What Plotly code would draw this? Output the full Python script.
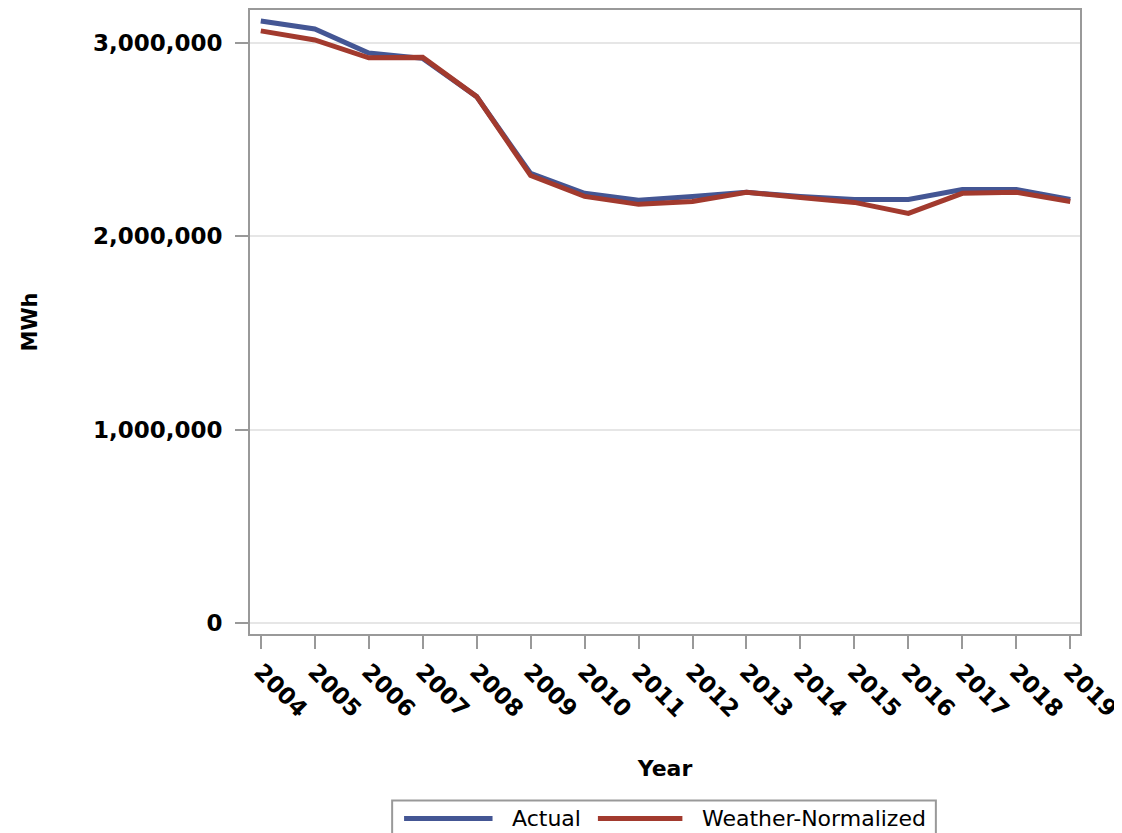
import plotly.graph_objects as go

years = [2004, 2005, 2006, 2007, 2008, 2009, 2010, 2011, 2012, 2013, 2014, 2015, 2016, 2017, 2018, 2019]
actual = [3113000, 3072000, 2948000, 2920000, 2722000, 2325000, 2222000, 2186000, 2206000, 2227000, 2206000, 2190000, 2190000, 2242000, 2242000, 2190000]
weather = [3062000, 3015000, 2923000, 2925000, 2722000, 2314000, 2206000, 2165000, 2180000, 2227000, 2201000, 2175000, 2118000, 2222000, 2227000, 2180000]
series_names = ["Actual", "Weather-Normalized"]
colors = ["#445694", "#A23A2E"]

# page has an 8px body margin; figure coordinates are page coordinates minus 8
OFF = 8
W, H = 1114, 825
L, T = 250 - OFF, 8 - OFF
R = W - (1085 - OFF)
B = H - (634 - OFF)
pw, ph = W - L - R, H - T - B

fig = go.Figure()
for name, vals, c in zip(series_names, [actual, weather], colors):
    fig.add_trace(go.Scatter(x=years, y=vals, mode="lines", name=name,
                             line=dict(color=c, width=5), showlegend=False))

tickfont = dict(family="DejaVu Sans", size=23, color="black", weight="bold")
fig.update_layout(
    width=W, height=H, margin=dict(l=L, r=R, t=T, b=B),
    paper_bgcolor="white", plot_bgcolor="white",
    xaxis=dict(range=[2003.8, 2019.18], tickmode="array", tickvals=years,
               ticktext=[str(y) for y in years], tickangle=45,
               ticklabeloverflow="allow",
               ticks="outside", ticklen=13, tickwidth=2, tickcolor="#999999",
               showline=True, linecolor="#999999", linewidth=2, mirror=True,
               showgrid=False, zeroline=False, tickfont=tickfont,
               title=dict(text="Year", font=dict(family="DejaVu Sans", size=22, color="black", weight="bold"), standoff=40)),
    yaxis=dict(range=[-56700, 3170000], tickmode="array",
               tickvals=[0, 1000000, 2000000, 3000000],
               ticktext=["0", "1,000,000", "2,000,000", "3,000,000"],
               ticks="outside", ticklen=13, tickwidth=2, tickcolor="#999999",
               ticklabelstandoff=8,
               showline=True, linecolor="#999999", linewidth=2, mirror=True,
               showgrid=True, gridcolor="#e6e6e6", gridwidth=2, zeroline=False,
               tickfont=tickfont,
               title=dict(text="MWh", font=dict(family="DejaVu Sans", size=21, color="black", weight="bold"), standoff=50)),
)

def px_x(px):
    return (px - OFF - L) / pw

def px_y(py):
    return (H - B - (py - OFF)) / ph

# custom legend (reference legend is cut off at the bottom edge)
fig.add_shape(type="rect", xref="paper", yref="paper",
              x0=px_x(393), x1=px_x(940), y0=px_y(845), y1=px_y(801),
              line=dict(color="#999999", width=2), fillcolor="white")
leg_items = [(405, 494, 512), (600, 685, 703)]
for (x0, x1, tx), name, c in zip(leg_items, series_names, colors):
    fig.add_shape(type="line", xref="paper", yref="paper",
                  x0=px_x(x0), x1=px_x(x1), y0=px_y(819), y1=px_y(819),
                  line=dict(color=c, width=5))
    fig.add_annotation(xref="paper", yref="paper", x=px_x(tx), y=px_y(819),
                       text=name, showarrow=False, xanchor="left", yanchor="middle",
                       font=dict(family="DejaVu Sans", size=22, color="black"))

fig.write_html("out.html")
